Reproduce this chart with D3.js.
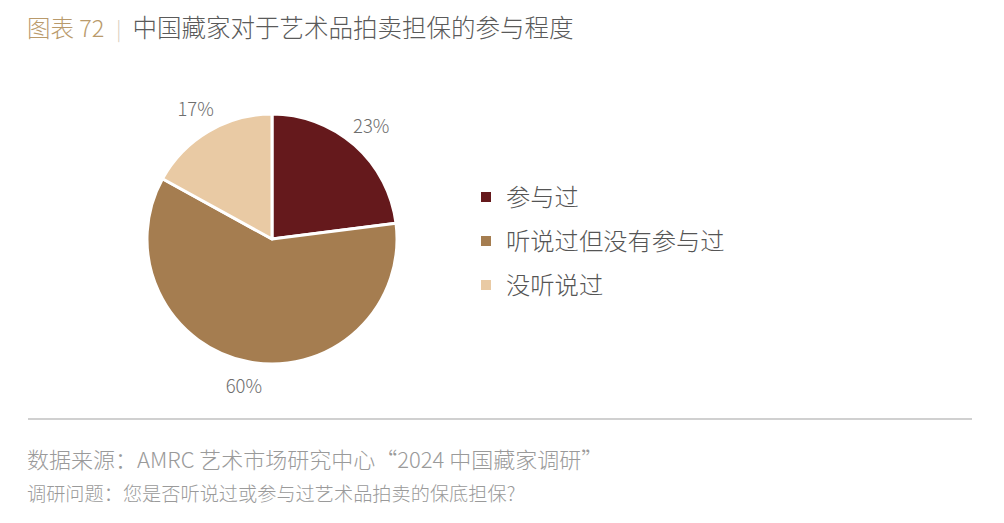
<!DOCTYPE html>
<html lang="zh">
<head>
    <meta charset="UTF-8">
    <script src="https://cdn.jsdelivr.net/npm/d3@7/dist/d3.min.js"></script>
    <title>图表 72</title>
    <style>
        body { margin: 0; background: #fff; }
        text { font-family: "Noto Sans CJK SC", "Noto Sans", sans-serif; font-weight: 300; }
    </style>
</head>
<body>
    <div id="chart"></div>
    <script>
        // 数据
        var categories = ["参与过", "听说过但没有参与过", "没听说过"];
        var values = [23, 60, 17];
        var colors = ["#65191c", "#a57d50", "#e9caa4"];

        var width = 1004, height = 523;
        var svg = d3.select("#chart").append("svg")
            .attr("width", width)
            .attr("height", height);

        // 标题
        var title = svg.append("text")
            .attr("x", 27)
            .attr("y", 37)
            .style("font-size", "24.5px");
        title.append("tspan").attr("fill", "#b99a6b").style("font-size", "23.5px").text("图表 72");
        title.append("tspan").attr("fill", "#d6cbb9").attr("dx", 12).style("font-size", "20px").text("|");
        title.append("tspan").attr("fill", "#5a5a5a").attr("dx", 11).text("中国藏家对于艺术品拍卖担保的参与程度");

        // 饼图
        var cx = 272, cy = 239, r = 125;
        var pie = d3.pie().sort(null).value(function (d) { return d; });
        var arc = d3.arc().innerRadius(0).outerRadius(r);
        var labelArc = d3.arc().innerRadius(150).outerRadius(150);

        var g = svg.append("g").attr("transform", "translate(" + cx + "," + cy + ")");
        var arcs = pie(values);

        g.selectAll("path")
            .data(arcs)
            .enter().append("path")
            .attr("d", arc)
            .attr("fill", function (d, i) { return colors[i]; })
            .attr("stroke", "#fff")
            .attr("stroke-width", 3)
            .attr("stroke-linejoin", "round");

        g.selectAll("text.pct")
            .data(arcs)
            .enter().append("text")
            .attr("class", "pct")
            .attr("transform", function (d) { return "translate(" + labelArc.centroid(d) + ")"; })
            .attr("text-anchor", "middle")
            .attr("dy", "0.35em")
            .attr("fill", "#6e6e6e")
            .style("font-size", "18.5px")
            .text(function (d) { return d.data + "%"; });

        // 图例
        var legendY = d3.scalePoint().domain(categories).range([197, 285]);
        var legend = svg.selectAll("g.legend")
            .data(categories)
            .enter().append("g")
            .attr("class", "legend")
            .attr("transform", function (d) { return "translate(481," + legendY(d) + ")"; });
        legend.append("rect")
            .attr("x", 0).attr("y", -5)
            .attr("width", 10).attr("height", 10)
            .attr("fill", function (d, i) { return colors[i]; });
        legend.append("text")
            .attr("x", 25)
            .attr("dy", "0.36em")
            .attr("fill", "#555")
            .style("font-size", "24.3px")
            .text(function (d) { return d; });

        // 分隔线
        svg.append("line")
            .attr("x1", 28).attr("x2", 972)
            .attr("y1", 419).attr("y2", 419)
            .attr("stroke", "#d0d0d0")
            .attr("stroke-width", 2);

        // 来源
        svg.append("text")
            .attr("x", 27).attr("y", 468)
            .attr("fill", "#9a9a9a")
            .style("font-size", "22px")
            .text("数据来源：AMRC 艺术市场研究中心“2024 中国藏家调研”");
        svg.append("text")
            .attr("x", 27).attr("y", 501)
            .attr("fill", "#9a9a9a")
            .style("font-size", "19.2px")
            .text("调研问题：您是否听说过或参与过艺术品拍卖的保底担保?");
    </script>
</body>
</html>
